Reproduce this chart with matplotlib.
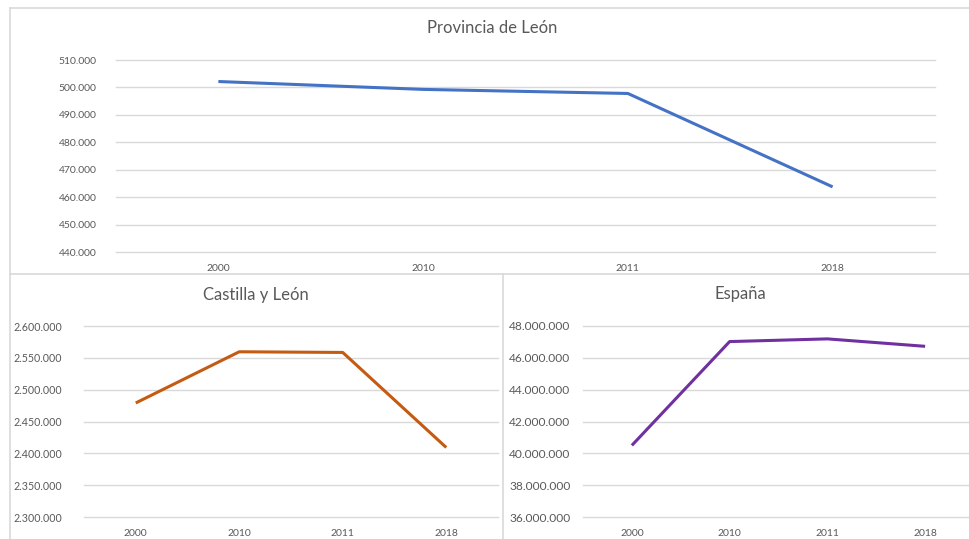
import matplotlib.pyplot as plt
from matplotlib.ticker import FuncFormatter

# datos de población
years = ['2000', '2010', '2011', '2018']
leon = [502155, 499284, 497799, 463746]
cyl = [2479118, 2559515, 2558463, 2409164]
espana = [40499791, 47021031, 47190493, 46722980]

GRID = '#d9d9d9'
TXT = '#595959'
plt.rcParams['font.family'] = ['Lato', 'DejaVu Sans']

W, H = 969, 539


def box(l, t, r, b):
    # l, t, r, b in pixels -> figure fraction rect
    return [l / W, 1 - b / H, (r - l) / W, (b - t) / H]


def miles(v, pos):
    return f'{int(round(v)):,}'.replace(',', '.')


def chart(ax, values, color, ylim, step, fs, ypad):
    x = range(len(years))
    ax.plot(x, values, color=color, lw=2.2, solid_capstyle='butt')
    ax.set_xlim(-0.5, len(years) - 0.5)
    ax.set_ylim(*ylim)
    ax.set_yticks(range(ylim[0], ylim[1] + 1, step))
    ax.yaxis.set_major_formatter(FuncFormatter(miles))
    ax.set_xticks(list(x))
    ax.set_xticklabels(years)
    ax.grid(axis='y', color=GRID, lw=1)
    for g in ax.get_ygridlines():
        g.set_clip_on(False)
    ax.set_axisbelow(True)
    for s in ax.spines.values():
        s.set_visible(False)
    ax.tick_params(axis='y', length=0, pad=ypad, labelsize=fs, labelcolor=TXT)
    ax.tick_params(axis='x', length=0, pad=9, labelsize=7.5, labelcolor=TXT)


fig = plt.figure(figsize=(W / 100, H / 100), dpi=100)

# bordes de los gráficos
border = dict(color=GRID, lw=1.2, transform=fig.transFigure)
fig.add_artist(plt.Line2D([10 / W, 10 / W], [0, 1 - 8 / H], **border))
fig.add_artist(plt.Line2D([10 / W, 1], [1 - 8 / H, 1 - 8 / H], **border))
fig.add_artist(plt.Line2D([10 / W, 1], [1 - 274 / H, 1 - 274 / H], **border))
fig.add_artist(plt.Line2D([503 / W, 503 / W], [0, 1 - 274 / H], **border))

ax1 = fig.add_axes(box(116, 60, 935, 252))
chart(ax1, leon, '#4472C4', (440000, 510000), 10000, 7.5, 14)
fig.text(492 / W, 1 - 28 / H, 'Provincia de León', ha='center', va='center',
         fontsize=12, color=TXT)

ax2 = fig.add_axes(box(84, 326, 498, 517))
chart(ax2, cyl, '#C55A11', (2300000, 2600000), 50000, 7.7, 16)
fig.text(256 / W, 1 - 295 / H, 'Castilla y León', ha='center', va='center',
         fontsize=12, color=TXT)

ax3 = fig.add_axes(box(583, 326, 974, 517))
chart(ax3, espana, '#7030A0', (36000000, 48000000), 2000000, 8.6, 9)
fig.text(740 / W, 1 - 294 / H, 'España', ha='center', va='center',
         fontsize=12, color=TXT)

fig.savefig('out.png', dpi=100, facecolor='white')
